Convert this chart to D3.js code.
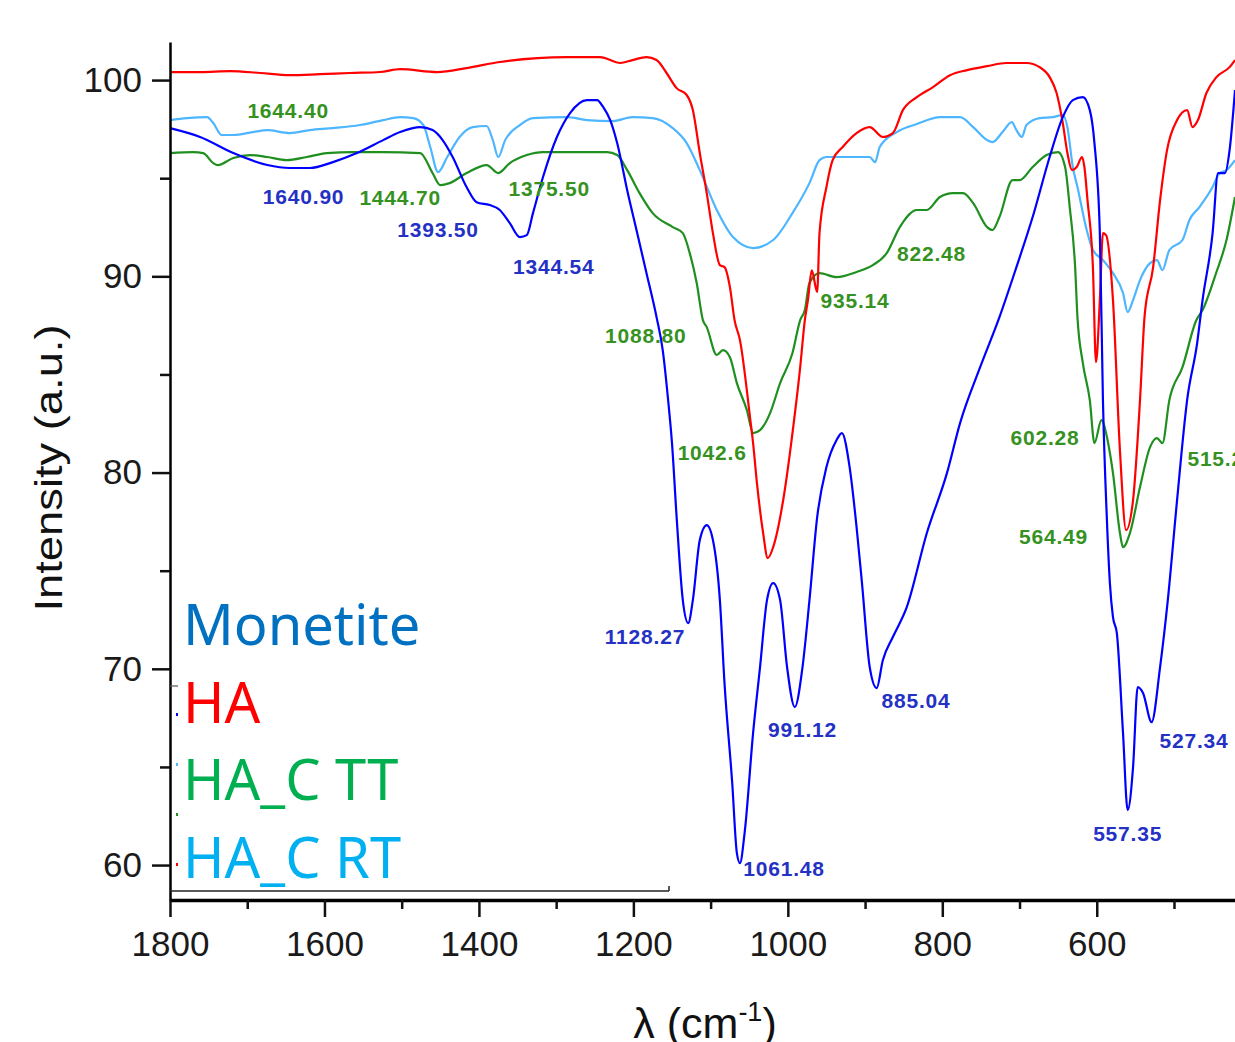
<!DOCTYPE html>
<html>
<head>
<meta charset="utf-8">
<script src="https://cdn.jsdelivr.net/npm/d3@7"></script>
<style>
  body { margin: 0; background: #fff; }
  svg { display: block; }
</style>
</head>
<body>
<script>
// FTIR spectra, wavenumber (cm-1) vs intensity (a.u.)
var monetite = [[1800,97.55],[1761,97.1],[1718,96.28],[1674,95.67],[1645,95.52],[1619,95.52],[1589,95.82],[1558,96.28],[1524,96.94],[1502,97.35],[1476,97.6],[1460,97.45],[1447,96.94],[1434,96.08],[1416,94.55],[1403,93.78],[1386,93.63],[1373,93.38],[1360,92.71],[1347,92.0],[1338,92.1],[1330,93.22],[1317,95.06],[1299,97.1],[1282,98.32],[1260,98.98],[1247,98.98],[1239,98.62],[1230,97.96],[1221,96.79],[1208,94.39],[1195,92.2],[1183,90.16],[1170,87.92],[1162,86.24],[1155,83.69],[1150,81.5],[1144,77.73],[1136,73.5],[1129,72.33],[1123,73.5],[1114,76.56],[1105,77.32],[1097,76.56],[1088,73.5],[1082,69.27],[1072,64.17],[1066,60.61],[1062,60.1],[1056,61.63],[1045,66.72],[1036,70.09],[1027,73.5],[1019,74.37],[1010,73.5],[1001,70.09],[991,68.05],[981,70.09],[972,73.5],[962,77.73],[950,80.28],[937,81.65],[930,82.01],[920,80.28],[911,77.22],[904,74.37],[894,70.09],[885,69.02],[877,70.44],[864,71.62],[846,73.14],[820,76.92],[794,79.97],[777,82.52],[751,85.37],[726,87.92],[704,90.47],[683,93.02],[661,96.08],[644,98.11],[631,98.98],[618,99.13],[609,98.47],[603,96.79],[596,92.2],[592,83.69],[587,77.73],[583,74.37],[579,72.63],[574,71.82],[566,66.72],[560,62.8],[553,64.99],[547,69.07],[540,68.76],[529,67.28],[518,70.09],[508,73.5],[496,78.6],[483,83.69],[470,86.6],[463,88.79],[450,92.2],[443,95.26],[434,95.26],[428,96.43],[421,99.49]];

var ha = [[1800,100.41],[1761,100.41],[1722,100.46],[1683,100.36],[1645,100.25],[1606,100.3],[1567,100.36],[1528,100.41],[1502,100.56],[1454,100.41],[1416,100.61],[1373,100.92],[1286,101.17],[1243,101.17],[1217,100.87],[1201,101.02],[1183,101.17],[1170,101.02],[1157,100.36],[1144,99.59],[1131,99.24],[1123,98.47],[1114,96.28],[1105,94.24],[1097,92.2],[1088,90.57],[1082,90.47],[1075,89.45],[1069,87.77],[1062,86.75],[1049,82.83],[1045,81.5],[1040,79.46],[1032,76.92],[1026,75.64],[1019,76.2],[1006,78.6],[994,82.01],[984,85.37],[978,87.77],[974,88.79],[969,90.3],[962,89.2],[959,92.2],[950,94.55],[942,95.92],[929,96.59],[911,97.3],[894,97.6],[877,97.1],[864,97.3],[851,98.47],[833,99.13],[812,99.64],[790,100.25],[768,100.51],[742,100.71],[717,100.87],[691,100.87],[674,100.66],[661,100.15],[652,99.34],[644,97.81],[638,96.28],[632,95.41],[626,95.57],[619,96.08],[616,95.57],[612,93.88],[605,90.47],[601,85.63],[596,88.79],[592,92.2],[588,92.1],[579,88.79],[570,81.14],[562,77.07],[553,78.6],[544,83.69],[538,88.0],[527,90.47],[518,93.88],[509,96.43],[496,97.96],[483,98.47],[476,97.6],[469,97.96],[458,99.34],[445,100.15],[428,100.66],[421,101.02]];

var haCTT = [[1800,96.28],[1770,96.33],[1757,96.28],[1744,95.77],[1738,95.67],[1718,96.03],[1696,96.18],[1674,96.08],[1649,95.92],[1623,96.08],[1597,96.28],[1563,96.33],[1524,96.33],[1476,96.28],[1460,95.26],[1450,94.65],[1438,94.75],[1416,95.26],[1390,95.67],[1375,95.26],[1360,95.77],[1338,96.18],[1317,96.33],[1234,96.33],[1221,96.18],[1208,95.41],[1192,94.24],[1175,93.22],[1149,92.51],[1136,92.2],[1127,91.18],[1118,89.66],[1110,87.77],[1105,87.41],[1092,85.99],[1084,86.24],[1075,85.88],[1066,84.56],[1053,83.18],[1045,82.01],[1036,82.16],[1023,83.03],[1010,84.56],[994,86.09],[984,87.77],[978,88.28],[972,89.66],[959,90.16],[937,89.96],[911,90.22],[890,90.57],[872,91.18],[855,92.51],[833,93.38],[820,93.38],[803,94.04],[786,94.24],[773,94.24],[760,93.73],[742,92.51],[735,92.36],[726,93.02],[709,94.9],[700,94.9],[683,95.57],[665,96.18],[650,96.33],[641,95.57],[635,93.53],[628,90.47],[625,87.92],[618,85.58],[609,83.69],[603,81.5],[594,82.67],[586,81.65],[579,79.97],[570,76.92],[566,76.2],[557,76.92],[544,79.26],[531,81.3],[522,81.76],[515,81.5],[506,83.69],[489,85.37],[471,87.77],[463,88.28],[445,90.22],[432,91.85],[421,94.04]];

var haCRT = [[1800,97.96],[1778,98.06],[1752,98.11],[1744,97.81],[1733,97.2],[1718,97.2],[1693,97.35],[1674,97.45],[1645,97.3],[1619,97.45],[1589,97.55],[1554,97.71],[1524,97.96],[1502,98.11],[1485,98.06],[1472,97.71],[1463,96.59],[1453,95.31],[1441,96.08],[1425,97.1],[1408,97.6],[1390,97.66],[1382,96.94],[1375,96.08],[1366,96.94],[1347,97.71],[1330,98.06],[1286,98.11],[1260,97.96],[1227,97.91],[1201,98.11],[1175,98.06],[1149,97.55],[1131,96.79],[1114,95.41],[1092,93.38],[1071,92.0],[1045,91.44],[1019,91.85],[994,93.22],[972,94.75],[959,95.92],[950,96.08],[920,96.08],[894,96.08],[887,95.82],[881,96.59],[859,97.35],[833,97.76],[803,98.11],[777,98.11],[760,97.6],[742,96.94],[735,96.84],[722,97.35],[710,97.86],[704,97.45],[697,97.1],[691,97.71],[674,98.06],[657,98.11],[644,98.22],[638,97.6],[631,95.57],[625,94.55],[613,92.36],[605,91.34],[592,90.83],[579,90.16],[566,89.15],[560,88.18],[553,88.79],[544,89.81],[531,90.67],[522,90.83],[515,90.32],[506,91.34],[489,91.85],[480,92.87],[467,93.53],[450,94.55],[441,95.26],[432,95.41],[421,95.92]];

// peak annotations: [text, wavenumber, intensity] (label centre)
var bluePeaks = [["1640.90",1627,94.09],["1393.50",1453,92.41],["1344.54",1303,90.52],["1128.27",1185,71.67],["991.12",981,66.93],["885.04",834,68.4],["1061.48",1005,59.84],["557.35",560,61.63],["527.34",474,66.37]];
var greenPeaks = [["1644.40",1647,98.47],["1444.70",1502,94.04],["1375.50",1309,94.5],["1088.80",1184,87.0],["935.14",913,88.79],["822.48",814,91.18],["1042.6",1098,81.04],["602.28",667,81.81],["564.49",656,76.76],["515.2",446,80.74]];

var seriesNames = ["Monetite","HA","HA_C TT","HA_C RT"];
var xMajor = [1800,1600,1400,1200,1000,800,600];
var xMinor = [1700,1500,1300,1100,900,700,500];
var yMajor = [60,70,80,90,100];
var yMinor = [65,75,85,95];

var W = 1235, H = 1042;
var mLeft = 170, mRight = 1235, mTop = 42, mBottom = 900;

var svg = d3.select("body").append("svg").attr("width", W).attr("height", H);
svg.append("rect").attr("width", W).attr("height", H).attr("fill", "#fff");

var x = d3.scaleLinear().domain([1800, 421]).range([mLeft, mRight]);
var y = d3.scaleLinear().domain([58.22, 101.94]).range([mBottom, mTop]);

// spectra
var line = d3.line().curve(d3.curveMonotoneX)
  .x(function(d){ return x(d[0]); }).y(function(d){ return y(d[1]); });
var plots = [
  {data: haCRT, color: "#4db6ff"},
  {data: haCTT, color: "#1f8f1f"},
  {data: ha, color: "#ff0000"},
  {data: monetite, color: "#0000ff"}
];
svg.selectAll("path.spec").data(plots).enter().append("path")
  .attr("class","spec")
  .attr("d", function(d){ return line(d.data); })
  .attr("fill","none")
  .attr("stroke", function(d){ return d.color; })
  .attr("stroke-width", 2.2)
  .attr("stroke-linejoin","round");

// axes
var xAxis = svg.append("g").attr("transform","translate(0," + mBottom + ")")
  .call(d3.axisBottom(x).tickValues(xMajor).tickFormat(d3.format("d")).tickSize(17).tickSizeOuter(0).tickPadding(14));
svg.append("g").attr("transform","translate(0," + mBottom + ")")
  .call(d3.axisBottom(x).tickValues(xMinor).tickSize(9).tickFormat(""))
  .select(".domain").remove();
xAxis.select(".domain").attr("stroke-width", 3.5);

var yAxis = svg.append("g").attr("transform","translate(" + mLeft + ",0)")
  .call(d3.axisLeft(y).tickValues(yMajor).tickFormat(d3.format("d")).tickSize(18).tickSizeOuter(0).tickPadding(10));
svg.append("g").attr("transform","translate(" + mLeft + ",0)")
  .call(d3.axisLeft(y).tickValues(yMinor).tickSize(10).tickFormat(""))
  .select(".domain").remove();
yAxis.select(".domain").attr("stroke-width", 2.5);

svg.selectAll(".tick line").attr("stroke","#111").attr("stroke-width", 2.5);
svg.selectAll(".tick text")
  .attr("font-family","'Liberation Sans', Arial, sans-serif")
  .attr("font-size", 35).attr("fill","#1a1a1a");

// axis titles
svg.append("text")
  .attr("transform","translate(62,468) rotate(-90)")
  .attr("text-anchor","middle")
  .attr("font-family","'Liberation Sans', Arial, sans-serif")
  .attr("font-size", 38)
  .attr("textLength", 287).attr("lengthAdjust","spacingAndGlyphs")
  .attr("fill","#111")
  .text("Intensity (a.u.)");

var xt = svg.append("text")
  .attr("x", 705).attr("y", 1038)
  .attr("text-anchor","middle")
  .attr("font-family","'Liberation Sans', Arial, sans-serif")
  .attr("font-size", 43).attr("fill","#111");
xt.append("tspan").text("λ (cm");
xt.append("tspan").attr("dy", -17).attr("font-size", 27).text("-1");
xt.append("tspan").attr("dy", 17).text(")");

// peak labels
function peakText(arr, color) {
  svg.selectAll(null).data(arr).enter().append("text")
    .attr("x", function(d){ return x(d[1]); })
    .attr("y", function(d){ return y(d[2]); })
    .attr("dy", "0.36em")
    .attr("text-anchor","middle")
    .attr("font-family","'Liberation Sans', Arial, sans-serif")
    .attr("font-weight","bold")
    .attr("font-size", 21)
    .attr("letter-spacing", 0.8)
    .attr("fill", color)
    .text(function(d){ return d[0]; });
}
peakText(bluePeaks, "#2431c4");
peakText(greenPeaks, "#36921f");

// legend box remnants (Origin legend frame)
svg.append("line").attr("x1", mLeft).attr("x2", 669).attr("y1", 891).attr("y2", 891)
  .attr("stroke","#222").attr("stroke-width", 1.5);
svg.append("line").attr("x1", 669).attr("x2", 669).attr("y1", 886).attr("y2", 891)
  .attr("stroke","#222").attr("stroke-width", 1.5);
svg.append("line").attr("x1", mLeft).attr("x2", 178).attr("y1", 686).attr("y2", 686)
  .attr("stroke","#555").attr("stroke-width", 1.2);

var legendColors = ["#0070c0","#ff0000","#00b050","#00b0f0"];
var sampleColors = ["#0000ff","#4db6ff","#1f8f1f","#ff0000"];
svg.selectAll("rect.sample").data(sampleColors).enter().append("rect")
  .attr("class","sample")
  .attr("x", 176).attr("y", function(d,i){ return 713 + i*50; })
  .attr("width", 2).attr("height", 3)
  .attr("fill", function(d){ return d; });

svg.selectAll("text.legend").data(seriesNames).enter().append("text")
  .attr("class","legend")
  .attr("x", 183)
  .attr("y", function(d,i){ return 645 + i*77.5; })
  .attr("font-family","'Noto Sans', 'Open Sans', sans-serif")
  .attr("font-size", 56)
  .attr("fill", function(d,i){ return legendColors[i]; })
  .text(function(d){ return d; });
</script>
</body>
</html>
